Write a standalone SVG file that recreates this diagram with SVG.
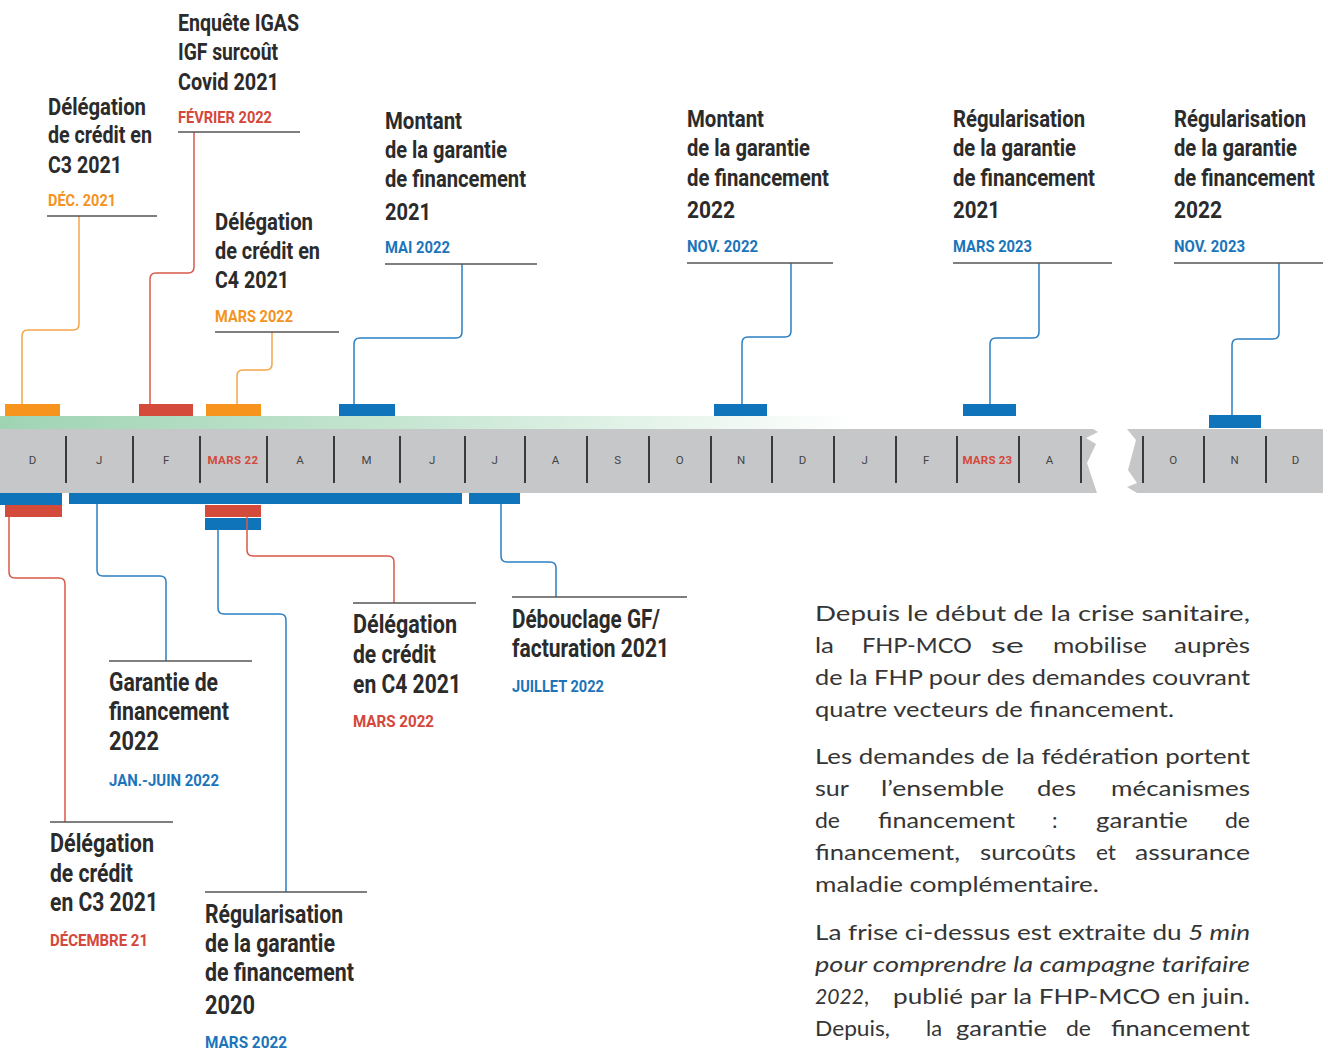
<svg xmlns="http://www.w3.org/2000/svg" width="1328" height="1050" viewBox="0 0 1328 1050">
<defs>
<linearGradient id="grn" x1="0" y1="0" x2="1" y2="0">
<stop offset="0" stop-color="#9fd4b3"/>
<stop offset="0.5" stop-color="#c9e7d4"/>
<stop offset="1" stop-color="#ffffff"/>
</linearGradient>
<style>
.t{font-family:"Roboto","Liberation Sans",sans-serif;font-weight:700;font-size:24px;fill:#2b2b2b}
.tb{font-size:25px}
.d{font-family:"Roboto","Liberation Sans",sans-serif;font-weight:700;font-size:17px}
.or{fill:#f39322}.rd{fill:#d4473a}.bl{fill:#1b75bb}
.ul{stroke:#555;stroke-width:1.5;fill:none}
.c{fill:none;stroke-width:1.5}
.co{stroke:#f4a54a}.cr{stroke:#d9584a}.cb{stroke:#2b7fc2}
.mo{fill:#f7941d}.mr{fill:#d54b3b}.mb{fill:#1074bb}
.tk{stroke:#3a3a3a;stroke-width:2}
.m{font-family:"Roboto","Liberation Sans",sans-serif;font-size:11.5px;fill:#444;text-anchor:middle;letter-spacing:0.8px}
.mm{font-weight:700;fill:#d4473a;letter-spacing:1.4px}
.p{font-family:"Lato","Noto Sans",sans-serif;font-size:22px;fill:#353535}
.i{font-style:italic}
</style>
</defs>

<g id="timeline">
<rect x="0" y="416" width="860" height="13" fill="url(#grn)"/>
<polygon points="0,429 1093,429 1098,432 1086,438 1096,444 1087,463 1097,493 0,493" fill="#c6c7c9"/>
<polygon points="1127,429 1323,429 1323,493 1137,493 1127,487 1137,483 1128,470 1136,440" fill="#c6c7c9"/>
<g id="ticks">
<line class="tk" x1="66" y1="436" x2="66" y2="483"/>
<line class="tk" x1="133" y1="436" x2="133" y2="483"/>
<line class="tk" x1="200" y1="436" x2="200" y2="483"/>
<line class="tk" x1="267" y1="436" x2="267" y2="483"/>
<line class="tk" x1="334" y1="436" x2="334" y2="483"/>
<line class="tk" x1="400" y1="436" x2="400" y2="483"/>
<line class="tk" x1="465" y1="436" x2="465" y2="483"/>
<line class="tk" x1="525" y1="436" x2="525" y2="483"/>
<line class="tk" x1="587" y1="436" x2="587" y2="483"/>
<line class="tk" x1="649" y1="436" x2="649" y2="483"/>
<line class="tk" x1="711" y1="436" x2="711" y2="483"/>
<line class="tk" x1="772" y1="436" x2="772" y2="483"/>
<line class="tk" x1="834" y1="436" x2="834" y2="483"/>
<line class="tk" x1="896" y1="436" x2="896" y2="483"/>
<line class="tk" x1="957" y1="436" x2="957" y2="483"/>
<line class="tk" x1="1019" y1="436" x2="1019" y2="483"/>
<line class="tk" x1="1081" y1="436" x2="1081" y2="483"/>
<line class="tk" x1="1143" y1="436" x2="1143" y2="483"/>
<line class="tk" x1="1204" y1="436" x2="1204" y2="483"/>
<line class="tk" x1="1266" y1="436" x2="1266" y2="483"/>
</g>
<g id="months">
<text class="m" x="33" y="464">D</text>
<text class="m" x="99.5" y="464">J</text>
<text class="m" x="166.5" y="464">F</text>
<text class="m mm" x="233.5" y="464" textLength="52">MARS 22</text>
<text class="m" x="300.5" y="464">A</text>
<text class="m" x="367" y="464">M</text>
<text class="m" x="432.5" y="464">J</text>
<text class="m" x="495" y="464">J</text>
<text class="m" x="556" y="464">A</text>
<text class="m" x="618" y="464">S</text>
<text class="m" x="680" y="464">O</text>
<text class="m" x="741.5" y="464">N</text>
<text class="m" x="803" y="464">D</text>
<text class="m" x="865" y="464">J</text>
<text class="m" x="926.5" y="464">F</text>
<text class="m mm" x="988" y="464" textLength="51">MARS 23</text>
<text class="m" x="1050" y="464">A</text>
<text class="m" x="1173.5" y="464">O</text>
<text class="m" x="1235" y="464">N</text>
<text class="m" x="1296" y="464">D</text>
</g>
<g id="markers">
<rect class="mo" x="5" y="404" width="55" height="12"/>
<rect class="mr" x="139" y="404" width="54" height="12"/>
<rect class="mo" x="206" y="404" width="55" height="12"/>
<rect class="mb" x="339" y="404" width="56" height="12"/>
<rect class="mb" x="714" y="404" width="53" height="12"/>
<rect class="mb" x="963" y="404" width="53" height="12"/>
<rect class="mb" x="1209" y="415" width="52" height="13"/>
<rect class="mb" x="0" y="493" width="62" height="12"/>
<rect class="mr" x="5" y="505" width="57" height="12"/>
<rect class="mb" x="69" y="493" width="393" height="11"/>
<rect class="mb" x="469" y="493" width="51" height="11"/>
<rect class="mr" x="205" y="505" width="56" height="12"/>
<rect class="mb" x="205" y="518" width="56" height="12"/>
</g>
</g>

<g id="connectors">
<path class="c co" d="M79,216 V324 Q79,330 73,330 H28 Q22,330 22,336 V404"/>
<path class="c cr" d="M194,132 V267 Q194,273 188,273 H156 Q150,273 150,279 V404"/>
<path class="c co" d="M272,332 V364 Q272,370 266,370 H243 Q237,370 237,376 V404"/>
<path class="c cb" d="M462,264 V332 Q462,338 456,338 H360 Q354,338 354,344 V404"/>
<path class="c cb" d="M791,263 V331 Q791,337 785,337 H748 Q742,337 742,343 V404"/>
<path class="c cb" d="M1039,263 V332 Q1039,338 1033,338 H996 Q990,338 990,344 V404"/>
<path class="c cb" d="M1279,263 V333 Q1279,339 1273,339 H1238 Q1232,339 1232,345 V415"/>
<path class="c cr" d="M9,517 V572 Q9,578 15,578 H59 Q65,578 65,584 V822"/>
<path class="c cb" d="M97,504 V570 Q97,576 103,576 H160 Q166,576 166,582 V661"/>
<path class="c cb" d="M218,530 V608 Q218,614 224,614 H280 Q286,614 286,620 V892"/>
<path class="c cr" d="M247,517 V550 Q247,556 253,556 H388 Q394,556 394,562 V603"/>
<path class="c cb" d="M501,504 V556 Q501,562 507,562 H550 Q556,562 556,568 V597"/>
</g>

<g id="n-delegation-c3-top">
<text class="t" x="48" y="115" textLength="98" lengthAdjust="spacingAndGlyphs">Délégation</text>
<text class="t" x="48" y="143" textLength="104" lengthAdjust="spacingAndGlyphs">de crédit en</text>
<text class="t" x="48" y="173" textLength="74" lengthAdjust="spacingAndGlyphs">C3 2021</text>
<text class="d or" x="48" y="206" textLength="68" lengthAdjust="spacingAndGlyphs">DÉC. 2021</text>
<line class="ul" x1="47" y1="216" x2="157" y2="216"/>
</g>

<g id="n-enquete">
<text class="t" x="178" y="31" textLength="121" lengthAdjust="spacingAndGlyphs">Enquête IGAS</text>
<text class="t" x="178" y="60" textLength="100" lengthAdjust="spacingAndGlyphs">IGF surcoût</text>
<text class="t" x="178" y="90" textLength="101" lengthAdjust="spacingAndGlyphs">Covid 2021</text>
<text class="d rd" x="178" y="123" textLength="94" lengthAdjust="spacingAndGlyphs">FÉVRIER 2022</text>
<line class="ul" x1="178" y1="132" x2="300" y2="132"/>
</g>

<g id="n-delegation-c4-top">
<text class="t" x="215" y="230" textLength="98" lengthAdjust="spacingAndGlyphs">Délégation</text>
<text class="t" x="215" y="259" textLength="105" lengthAdjust="spacingAndGlyphs">de crédit en</text>
<text class="t" x="215" y="288" textLength="74" lengthAdjust="spacingAndGlyphs">C4 2021</text>
<text class="d or" x="215" y="322" textLength="78" lengthAdjust="spacingAndGlyphs">MARS 2022</text>
<line class="ul" x1="215" y1="332" x2="339" y2="332"/>
</g>

<g id="n-montant-2021">
<text class="t" x="385" y="129" textLength="77" lengthAdjust="spacingAndGlyphs">Montant</text>
<text class="t" x="385" y="158" textLength="122" lengthAdjust="spacingAndGlyphs">de la garantie</text>
<text class="t" x="385" y="187" textLength="141" lengthAdjust="spacingAndGlyphs">de financement</text>
<text class="t" x="385" y="220" textLength="46" lengthAdjust="spacingAndGlyphs">2021</text>
<text class="d bl" x="385" y="253" textLength="65" lengthAdjust="spacingAndGlyphs">MAI 2022</text>
<line class="ul" x1="385" y1="264" x2="537" y2="264"/>
</g>

<g id="n-montant-2022">
<text class="t" x="687" y="127" textLength="77" lengthAdjust="spacingAndGlyphs">Montant</text>
<text class="t" x="687" y="156" textLength="123" lengthAdjust="spacingAndGlyphs">de la garantie</text>
<text class="t" x="687" y="186" textLength="142" lengthAdjust="spacingAndGlyphs">de financement</text>
<text class="t" x="687" y="218" textLength="48" lengthAdjust="spacingAndGlyphs">2022</text>
<text class="d bl" x="687" y="252" textLength="71" lengthAdjust="spacingAndGlyphs">NOV. 2022</text>
<line class="ul" x1="687" y1="263" x2="833" y2="263"/>
</g>

<g id="n-regularisation-2021">
<text class="t" x="953" y="127" textLength="132" lengthAdjust="spacingAndGlyphs">Régularisation</text>
<text class="t" x="953" y="156" textLength="123" lengthAdjust="spacingAndGlyphs">de la garantie</text>
<text class="t" x="953" y="186" textLength="142" lengthAdjust="spacingAndGlyphs">de financement</text>
<text class="t" x="953" y="218" textLength="47" lengthAdjust="spacingAndGlyphs">2021</text>
<text class="d bl" x="953" y="252" textLength="79" lengthAdjust="spacingAndGlyphs">MARS 2023</text>
<line class="ul" x1="953" y1="263" x2="1112" y2="263"/>
</g>

<g id="n-regularisation-2022">
<text class="t" x="1174" y="127" textLength="132" lengthAdjust="spacingAndGlyphs">Régularisation</text>
<text class="t" x="1174" y="156" textLength="123" lengthAdjust="spacingAndGlyphs">de la garantie</text>
<text class="t" transform="translate(1174,186) scale(0.8,1)" x="0" y="0" textLength="176" lengthAdjust="spacingAndGlyphs">de financement</text>
<text class="t" x="1174" y="218" textLength="48" lengthAdjust="spacingAndGlyphs">2022</text>
<text class="d bl" x="1174" y="252" textLength="71" lengthAdjust="spacingAndGlyphs">NOV. 2023</text>
<line class="ul" x1="1174" y1="263" x2="1323" y2="263"/>
</g>

<g id="n-delegation-c3-bottom">
<line class="ul" x1="50" y1="822" x2="173" y2="822"/>
<text class="t tb" x="50" y="852" textLength="104" lengthAdjust="spacingAndGlyphs">Délégation</text>
<text class="t tb" x="50" y="882" textLength="83" lengthAdjust="spacingAndGlyphs">de crédit</text>
<text class="t tb" x="50" y="911" textLength="108" lengthAdjust="spacingAndGlyphs">en C3 2021</text>
<text class="d rd" x="50" y="946" textLength="98" lengthAdjust="spacingAndGlyphs">DÉCEMBRE 21</text>
</g>

<g id="n-garantie-2022">
<line class="ul" x1="109" y1="661" x2="252" y2="661"/>
<text class="t tb" x="109" y="691" textLength="109" lengthAdjust="spacingAndGlyphs">Garantie de</text>
<text class="t tb" x="109" y="720" textLength="120" lengthAdjust="spacingAndGlyphs">financement</text>
<text class="t tb" x="109" y="750" textLength="50" lengthAdjust="spacingAndGlyphs">2022</text>
<text class="d bl" x="109" y="786" textLength="110" lengthAdjust="spacingAndGlyphs">JAN.-JUIN 2022</text>
</g>

<g id="n-regularisation-2020">
<line class="ul" x1="205" y1="892" x2="367" y2="892"/>
<text class="t tb" x="205" y="923" textLength="138" lengthAdjust="spacingAndGlyphs">Régularisation</text>
<text class="t tb" x="205" y="952" textLength="130" lengthAdjust="spacingAndGlyphs">de la garantie</text>
<text class="t tb" x="205" y="981" textLength="149" lengthAdjust="spacingAndGlyphs">de financement</text>
<text class="t tb" x="205" y="1014" textLength="50" lengthAdjust="spacingAndGlyphs">2020</text>
<text class="d bl" x="205" y="1048" textLength="82" lengthAdjust="spacingAndGlyphs">MARS 2022</text>
</g>

<g id="n-delegation-c4-bottom">
<line class="ul" x1="353" y1="603" x2="476" y2="603"/>
<text class="t tb" x="353" y="633" textLength="104" lengthAdjust="spacingAndGlyphs">Délégation</text>
<text class="t tb" x="353" y="663" textLength="83" lengthAdjust="spacingAndGlyphs">de crédit</text>
<text class="t tb" x="353" y="693" textLength="108" lengthAdjust="spacingAndGlyphs">en C4 2021</text>
<text class="d rd" x="353" y="727" textLength="81" lengthAdjust="spacingAndGlyphs">MARS 2022</text>
</g>

<g id="n-debouclage">
<line class="ul" x1="512" y1="597" x2="687" y2="597"/>
<text class="t tb" x="512" y="628" textLength="148" lengthAdjust="spacingAndGlyphs">Débouclage GF/</text>
<text class="t tb" x="512" y="657" textLength="157" lengthAdjust="spacingAndGlyphs">facturation 2021</text>
<text class="d bl" x="512" y="692" textLength="92" lengthAdjust="spacingAndGlyphs">JUILLET 2022</text>
</g>

<g id="paragraph">
<text class="p" x="815" y="621" textLength="435" lengthAdjust="spacingAndGlyphs">Depuis le début de la crise sanitaire,</text>
<text class="p" y="653"><tspan x="815" textLength="19" lengthAdjust="spacingAndGlyphs">la</tspan><tspan x="862" textLength="110" lengthAdjust="spacingAndGlyphs">FHP-MCO</tspan><tspan x="991" textLength="33" lengthAdjust="spacingAndGlyphs">se</tspan><tspan x="1053" textLength="94" lengthAdjust="spacingAndGlyphs">mobilise</tspan><tspan x="1174" textLength="76" lengthAdjust="spacingAndGlyphs">auprès</tspan></text>
<text class="p" x="815" y="685" textLength="435" lengthAdjust="spacingAndGlyphs">de la FHP pour des demandes couvrant</text>
<text class="p" x="815" y="717" textLength="359" lengthAdjust="spacingAndGlyphs">quatre vecteurs de financement.</text>

<text class="p" x="815" y="764" textLength="435" lengthAdjust="spacingAndGlyphs">Les demandes de la fédération portent</text>
<text class="p" y="796"><tspan x="815" textLength="34" lengthAdjust="spacingAndGlyphs">sur</tspan><tspan x="881" textLength="123" lengthAdjust="spacingAndGlyphs">l’ensemble</tspan><tspan x="1037" textLength="39" lengthAdjust="spacingAndGlyphs">des</tspan><tspan x="1111" textLength="139" lengthAdjust="spacingAndGlyphs">mécanismes</tspan></text>
<text class="p" y="828"><tspan x="815" textLength="25" lengthAdjust="spacingAndGlyphs">de</tspan><tspan x="878" textLength="137" lengthAdjust="spacingAndGlyphs">financement</tspan><tspan x="1052">:</tspan><tspan x="1096" textLength="92" lengthAdjust="spacingAndGlyphs">garantie</tspan><tspan x="1225" textLength="25" lengthAdjust="spacingAndGlyphs">de</tspan></text>
<text class="p" y="860"><tspan x="815" textLength="145" lengthAdjust="spacingAndGlyphs">financement,</tspan><tspan x="980" textLength="96" lengthAdjust="spacingAndGlyphs">surcoûts</tspan><tspan x="1096" textLength="20" lengthAdjust="spacingAndGlyphs">et</tspan><tspan x="1135" textLength="115" lengthAdjust="spacingAndGlyphs">assurance</tspan></text>
<text class="p" x="815" y="892" textLength="284" lengthAdjust="spacingAndGlyphs">maladie complémentaire.</text>

<text class="p" x="815" y="940" textLength="435" lengthAdjust="spacingAndGlyphs">La frise ci-dessus est extraite du <tspan class="i">5 min</tspan></text>
<text class="p i" x="815" y="972" textLength="435" lengthAdjust="spacingAndGlyphs">pour comprendre la campagne tarifaire</text>
<text class="p" y="1004"><tspan x="815" class="i" textLength="49" lengthAdjust="spacingAndGlyphs">2022</tspan>,<tspan x="893" textLength="357" lengthAdjust="spacingAndGlyphs">publié par la FHP-MCO en juin.</tspan></text>
<text class="p" y="1036"><tspan x="815" textLength="75" lengthAdjust="spacingAndGlyphs">Depuis,</tspan><tspan x="926" textLength="16" lengthAdjust="spacingAndGlyphs">la</tspan><tspan x="956" textLength="91" lengthAdjust="spacingAndGlyphs">garantie</tspan><tspan x="1066" textLength="25" lengthAdjust="spacingAndGlyphs">de</tspan><tspan x="1111" textLength="139" lengthAdjust="spacingAndGlyphs">financement</tspan></text>
</g>
</svg>
